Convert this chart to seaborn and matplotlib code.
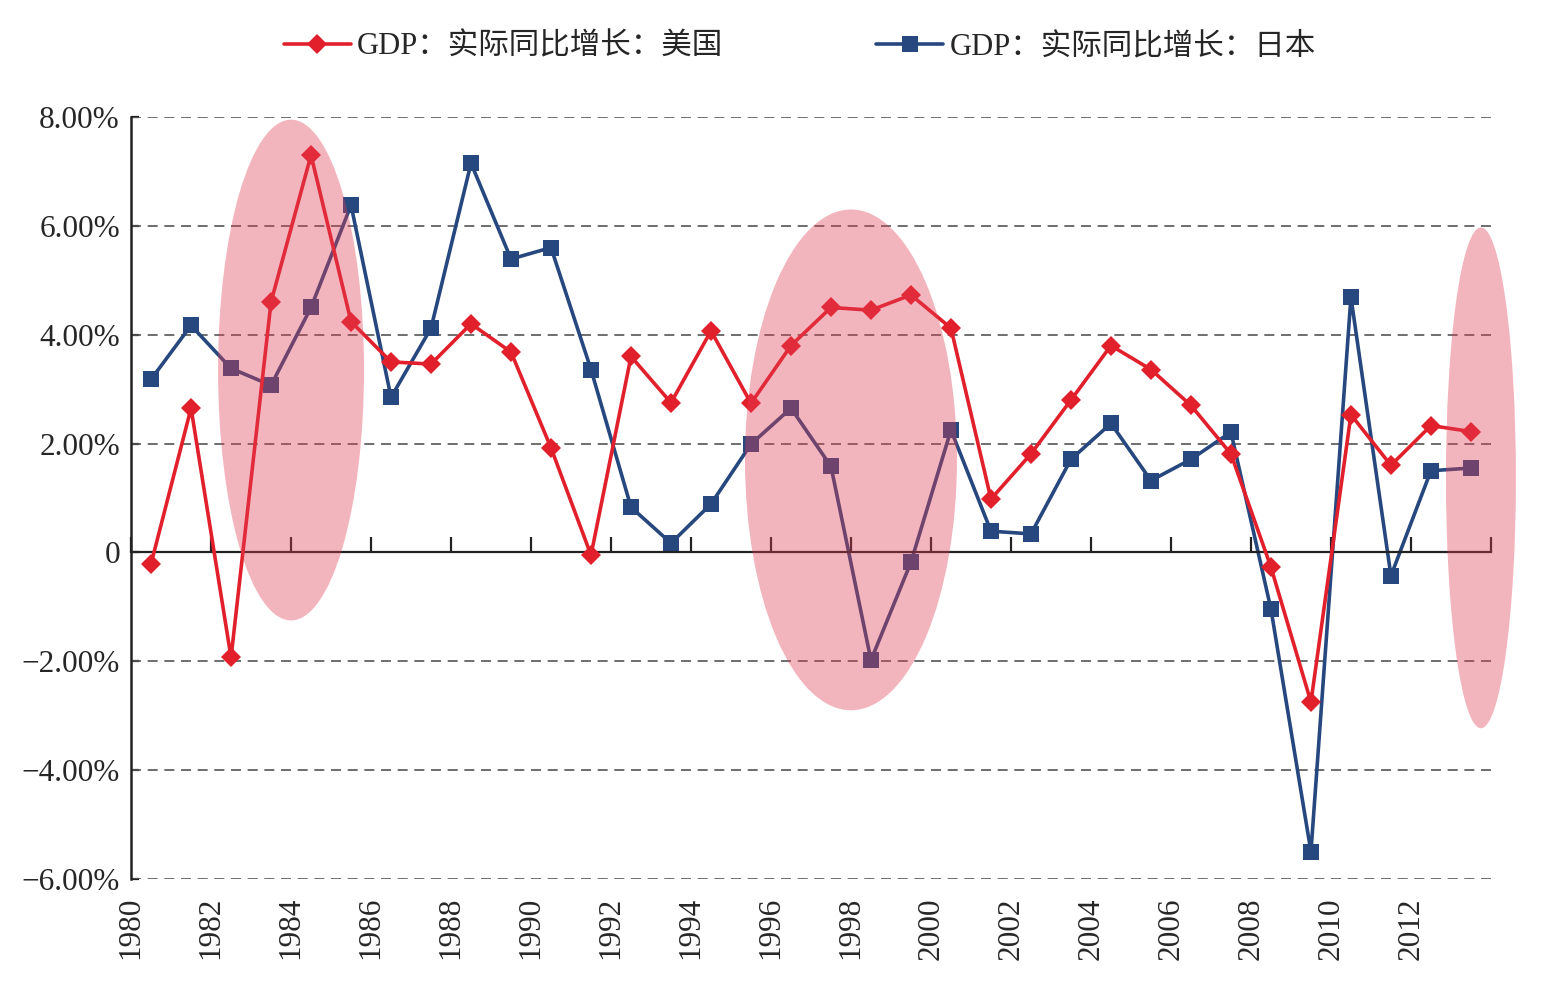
import matplotlib
matplotlib.use("Agg")
from matplotlib import pyplot as plt
from matplotlib.patches import Ellipse
from matplotlib.ticker import FuncFormatter
import seaborn as sns
import pandas as pd
import numpy as np

# 数据
years = list(range(1980, 2014))
us_gdp = [-0.21, 2.65, -1.93, 4.60, 7.30, 4.24, 3.50, 3.46, 4.20, 3.68,
          1.92, -0.05, 3.60, 2.75, 4.07, 2.74, 3.80, 4.50, 4.45, 4.73,
          4.12, 0.98, 1.81, 2.80, 3.80, 3.36, 2.70, 1.81, -0.27, -2.75,
          2.53, 1.60, 2.33, 2.22]
jp_gdp = [3.18, 4.17, 3.38, 3.07, 4.50, 6.38, 2.85, 4.12, 7.15, 5.39,
          5.60, 3.36, 0.83, 0.17, 0.89, 1.99, 2.65, 1.58, -1.98, -0.18,
          2.25, 0.39, 0.34, 1.71, 2.37, 1.32, 1.71, 2.21, -1.04, -5.50,
          4.69, -0.43, 1.50, 1.55]
label_us = "GDP：实际同比增长：美国"
label_jp = "GDP：实际同比增长：日本"
y_ticks = [-6, -4, -2, 0, 2, 4, 6, 8]
x_ticks = list(range(1980, 2015, 2))
x_labels = list(range(1980, 2013, 2))

# 高亮区域 (中心年, 中心值, 宽, 高)
highlights = [(1984.0, 3.35, 3.65, 9.2),
              (1998.0, 1.70, 5.30, 9.2),
              (2013.75, 1.37, 1.75, 9.2)]

red = "#E2202C"
blue = "#27477F"
pink = "#E23D52"

df = pd.DataFrame({"x": np.array(years) + 0.5, "us": us_gdp, "jp": jp_gdp})

sns.set_style("white")
plt.rcParams["font.family"] = ["Liberation Serif", "Noto Sans CJK SC", "DejaVu Sans"]
plt.rcParams["axes.unicode_minus"] = True

fig = plt.figure(figsize=(15.62, 9.82), dpi=100)
ax = fig.add_axes([0.0839, 0.1049, 0.9545 - 0.0839, 0.8809 - 0.1049])

sns.lineplot(data=df, x="x", y="us", ax=ax, color=red, lw=2.6, marker="D",
             markersize=10, markeredgewidth=0, label=label_us, zorder=3)
sns.lineplot(data=df, x="x", y="jp", ax=ax, color=blue, lw=2.6, marker="s",
             markersize=11, markeredgewidth=0, label=label_jp, zorder=2)

for cx, cy, w, h in highlights:
    ax.add_patch(Ellipse((cx, cy), w, h, facecolor=pink, edgecolor="none",
                         alpha=0.38, zorder=4, clip_on=False))

ax.set_xlim(1980, 2014)
ax.set_ylim(-6, 8)
ax.set_xlabel("")
ax.set_ylabel("")

# 网格
for v in y_ticks:
    if v != 0:
        ax.axhline(v, color="#555555", lw=1.2, ls=(0, (6, 4)), zorder=1)

ax.spines["top"].set_visible(False)
ax.spines["right"].set_visible(False)
ax.spines["left"].set_linewidth(1.8)
ax.spines["left"].set_color("#222222")
ax.spines["bottom"].set_position(("data", 0))
ax.spines["bottom"].set_linewidth(1.6)
ax.spines["bottom"].set_color("#222222")
ax.spines["bottom"].set_zorder(2.5)

ax.set_yticks(y_ticks)
ax.yaxis.set_major_formatter(FuncFormatter(
    lambda v, p: "0" if v == 0 else ("−" if v < 0 else "") + f"{abs(v):.2f}%"))
ax.tick_params(axis="y", direction="in", length=6, width=1.6, pad=8,
               labelsize=22.5, color="#222222", left=True)
ax.set_xticks(x_ticks)
ax.tick_params(axis="x", direction="in", length=11, width=1.6,
               labelbottom=False, color="#222222", bottom=True)

sec = ax.secondary_xaxis(0)
sec.set_xticks(x_labels)
sec.set_xticklabels([str(y) for y in x_labels], rotation=90)
sec.tick_params(length=0, pad=13, labelsize=22.5)
sec.spines["bottom"].set_visible(False)

ax.legend(loc="center", bbox_to_anchor=(0.512, 0.952),
          bbox_transform=fig.transFigure, ncol=2, frameon=False,
          fontsize=22, handlelength=2.2, handletextpad=0.2, columnspacing=5)

fig.savefig("out.png", dpi=100)
